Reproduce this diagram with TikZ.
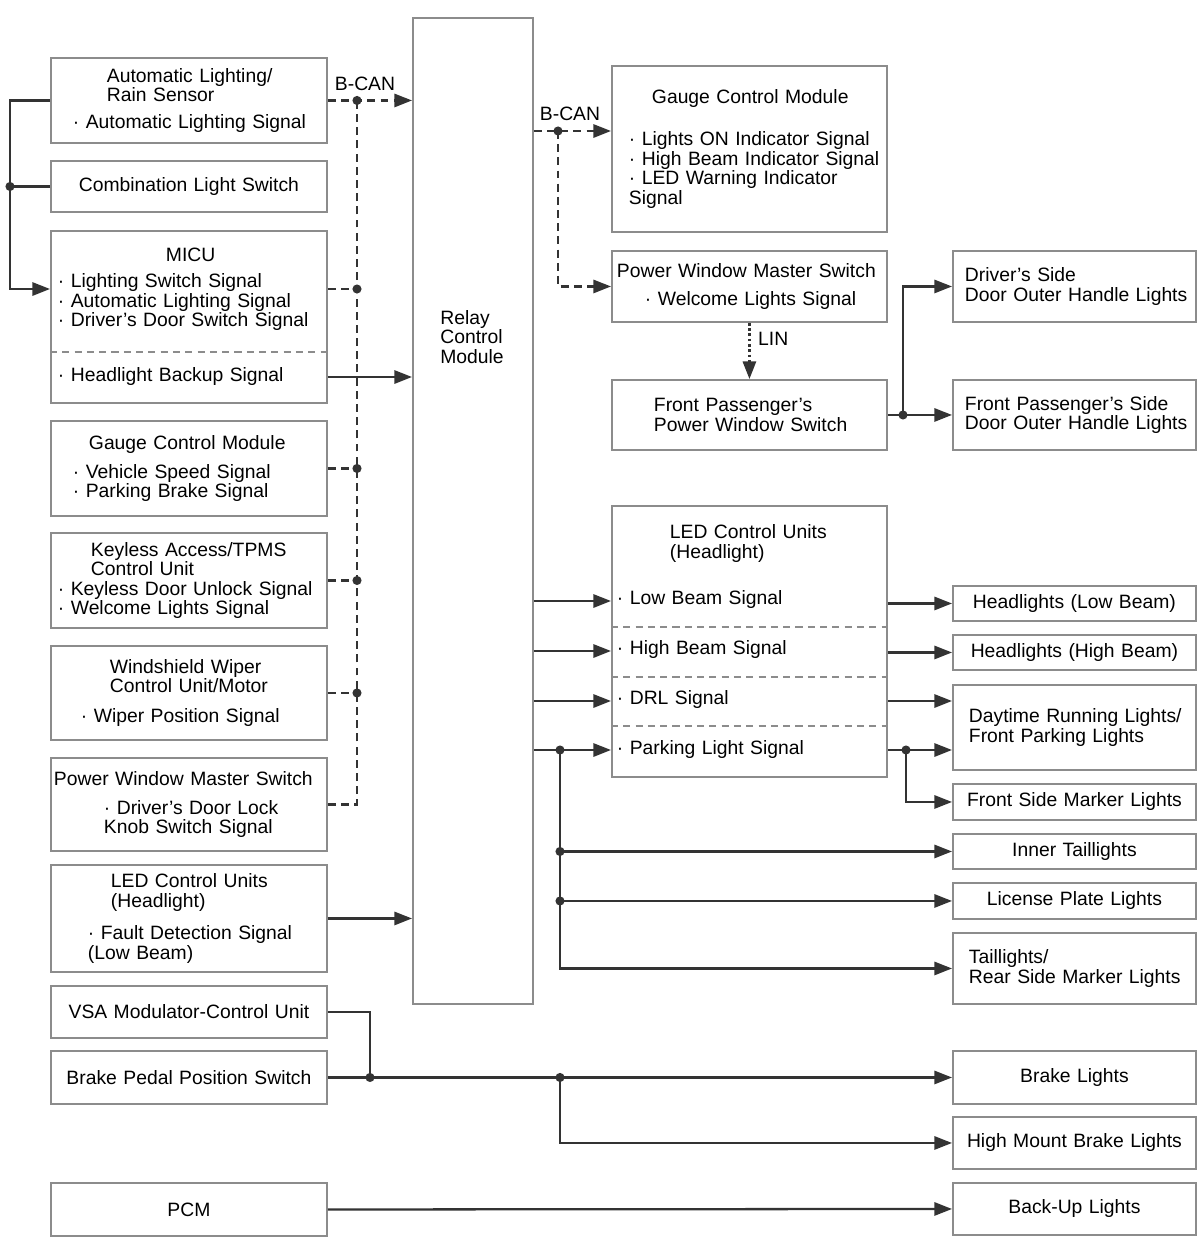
\documentclass[tikz,border=0pt]{standalone}
\usepackage{fontspec}
\setmainfont{Liberation Sans}
\usepackage{xcolor}
\usetikzlibrary{arrows.meta}
\definecolor{boxgray}{HTML}{8C8C8C}
\definecolor{wirec}{HTML}{333333}
\newlength{\pxl}\setlength{\pxl}{0.02cm}
\newcommand{\indt}[1]{\hspace*{#1\pxl}}

\begin{document}
\begin{tikzpicture}[%
    x=0.02cm,y=-0.02cm,>={Triangle[length=10pt,width=7.5pt]},
    font=\fontsize{11}{11.05}\selectfont,
    box/.style={draw=boxgray,line width=1.1pt,inner sep=0pt,anchor=north west,align=left},
    lbox/.style={box,text width=5.52cm},
    mbox/.style={box,text width=5.5cm},
    rbox/.style={box,text width=4.86cm},
    wire/.style={draw=wirec,line width=1.3pt},
    can/.style={wire,dash pattern=on 4.5pt off 3pt},
    lin/.style={wire,dash pattern=on 1.5pt off 1.5pt},
    divider/.style={draw=boxgray,line width=0.8pt,dash pattern=on 4pt off 3pt},
    jdot/.style={fill=wirec}
  ]
    \useasboundingbox (0,0) rectangle (1200,1242);

    % inputs
    \node[lbox,minimum height=1.70cm] (alrs) at (50,57) {\indt{56}Automatic Lighting/\\\indt{56}Rain Sensor\\[4pt]\indt{22}· Automatic Lighting Signal};
    \node[lbox,align=center,minimum height=1.02cm] (cls) at (50,160) {Combination Light Switch};
    \node[lbox,minimum height=3.44cm] (micu) at (50,230) {\indt{115}MICU\\[4pt]\indt{7}· Lighting Switch Signal\\\indt{7}· Automatic Lighting Signal\\\indt{7}· Driver’s Door Switch Signal\\[20.4pt]\indt{7}· Headlight Backup Signal};
    \node[lbox,minimum height=1.90cm] (gcml) at (50,420) {\indt{38}Gauge Control Module\\[5.7pt]\indt{22}· Vehicle Speed Signal\\\indt{22}· Parking Brake Signal};
    \node[lbox,minimum height=1.90cm] (keyl) at (50,532) {\indt{40}Keyless Access/TPMS\\\indt{40}Control Unit\\\indt{7}· Keyless Door Unlock Signal\\\indt{7}· Welcome Lights Signal};
    \node[lbox,minimum height=1.88cm] (wipr) at (50,645) {\indt{59}Windshield Wiper\\\indt{59}Control Unit/Motor\\[5.7pt]\indt{30}· Wiper Position Signal};
    \node[lbox,minimum height=1.86cm] (pwml) at (50,757) {\indt{3}Power Window Master Switch\\[5.7pt]\indt{53}· Driver’s Door Lock\\\indt{53}Knob Switch Signal};
    \node[lbox,minimum height=2.14cm] (ledl) at (50,864) {\indt{60}LED Control Units\\\indt{60}(Headlight)\\[7.5pt]\indt{37}· Fault Detection Signal\\\indt{37}(Low Beam)};
    \node[lbox,align=center,minimum height=1.04cm] (vsa) at (50,985) {VSA Modulator-Control Unit};
    \node[lbox,align=center,minimum height=1.06cm] (bpps) at (50,1050) {Brake Pedal Position Switch};
    \node[lbox,align=center,minimum height=1.06cm] (pcm) at (50,1182) {PCM};

    % relay
    \node[box,minimum width=2.4cm,minimum height=19.72cm] (rcm) at (412,17) {};
    \node[anchor=west,align=left,inner sep=0pt] (rcmtxt) at (440,337) {Relay\\Control\\Module};

    % middle column
    \node[mbox,minimum height=3.32cm] (gcmr) at (611,65) {\indt{40}Gauge Control Module\\[13pt]\indt{17}· Lights ON Indicator Signal\\\indt{17}· High Beam Indicator Signal\\\indt{17}· LED Warning Indicator\\\indt{17}Signal};
    \node[mbox,minimum height=1.42cm] (pwmr) at (611,250) {\indt{5}Power Window Master Switch\\[5pt]\indt{33}· Welcome Lights Signal};
    \node[mbox,minimum height=1.40cm] (fppws) at (611,379) {\indt{42}Front Passenger’s\\\indt{42}Power Window Switch};
    \node[mbox,minimum height=5.42cm] (ledr) at (611,505) {\indt{58}LED Control Units\\\indt{58}(Headlight)\\[15.6pt]\indt{5}· Low Beam Signal\\[17.3pt]\indt{5}· High Beam Signal\\[17.3pt]\indt{5}· DRL Signal\\[17.3pt]\indt{5}· Parking Light Signal};

    % outputs
    \node[rbox,minimum height=1.42cm] (drsd) at (952,250) {\indt{12}Driver’s Side\\\indt{12}Door Outer Handle Lights};
    \node[rbox,minimum height=1.40cm] (fpsd) at (952,379) {\indt{12}Front Passenger’s Side\\\indt{12}Door Outer Handle Lights};
    \node[rbox,align=center,minimum height=0.70cm] (hllo) at (952,585) {Headlights (Low Beam)};
    \node[rbox,align=center,minimum height=0.70cm] (hlhi) at (952,634) {Headlights (High Beam)};
    \node[rbox,minimum height=1.70cm] (drl) at (952,684) {\indt{16}Daytime Running Lights/\\\indt{16}Front Parking Lights};
    \node[rbox,align=center,minimum height=0.72cm] (fsml) at (952,783) {Front Side Marker Lights};
    \node[rbox,align=center,minimum height=0.70cm] (innr) at (952,833) {Inner Taillights};
    \node[rbox,align=center,minimum height=0.72cm] (lic) at (952,882) {License Plate Lights};
    \node[rbox,minimum height=1.42cm] (tail) at (952,932) {\indt{16}Taillights/\\\indt{16}Rear Side Marker Lights};
    \node[rbox,align=center,minimum height=1.06cm] (brk) at (952,1050) {Brake Lights};
    \node[rbox,align=center,minimum height=1.04cm] (hmbl) at (952,1116) {High Mount Brake Lights};
    \node[rbox,align=center,minimum height=1.04cm] (bkup) at (952,1182) {Back-Up Lights};

    % dividers
    \draw[divider] (micu.west |- 0,352) -- (micu.east |- 0,352);
    \foreach \yy in {627,677,726}
      \draw[divider] (ledr.west |- 0,\yy) -- (ledr.east |- 0,\yy);

    % left bus
    \coordinate (lbus) at (10,289);
    \draw[wire,->] (alrs.west) -| (lbus) -- (micu.west |- lbus);
    \draw[wire] (cls.west) -- (cls.west -| lbus);
    \fill[jdot] (cls.west -| lbus) circle (2.6pt);

    % B-CAN, left
    \coordinate (cbus) at (357,0);
    \node (bcanl) at (365,84) {B-CAN};
    \draw[can,->] (alrs.east) -- (alrs.east -| rcm.west);
    \draw[can] (pwml.east) -| (alrs.east -| cbus);
    \fill[jdot] (alrs.east -| cbus) circle (2.6pt);
    \draw[can] (micu.east |- lbus) -- (cbus |- lbus);
    \fill[jdot] (cbus |- lbus) circle (2.6pt);
    \foreach \nm in {gcml,keyl,wipr}{
      \draw[can] (\nm.east) -- (\nm.east -| cbus);
      \fill[jdot] (\nm.east -| cbus) circle (2.6pt);
    }
    \draw[wire,->] (micu.east |- 0,377) -- (rcm.west |- 0,377);
    \draw[wire,->] (ledl.east) -- (ledl.east -| rcm.west);

    % B-CAN, right
    \coordinate (rcan) at (558,131);
    \node (bcanr) at (570,114) {B-CAN};
    \draw[can,->] (rcm.east |- rcan) -- (gcmr.west |- rcan);
    \draw[can,->] (rcan) |- (pwmr.west);
    \fill[jdot] (rcan) circle (2.6pt);

    % LIN and door lights
    \draw[lin,->] (pwmr.south) -- node[pos=0.28,right=1pt] (linlab) {LIN} (fppws.north);
    \coordinate (pwj) at (903,0);
    \draw[wire,->] (fppws.east) -- (fpsd.west);
    \draw[wire,->] (fppws.east -| pwj) |- (drsd.west);
    \fill[jdot] (fppws.east -| pwj) circle (2.6pt);

    % relay to LED units
    \foreach \yy in {601,651,701,750}
      \draw[wire,->] (rcm.east |- 0,\yy) -- (ledr.west |- 0,\yy);
    \draw[wire,->] (ledr.east |- hllo.west) -- (hllo.west);
    \draw[wire,->] (ledr.east |- hlhi.west) -- (hlhi.west);
    \draw[wire,->] (ledr.east |- 0,701) -- (drl.west |- 0,701);
    \draw[wire,->] (ledr.east |- 0,750) -- (drl.west |- 0,750);
    \coordinate (pkj) at (906,750);
    \draw[wire,->] (pkj) |- (fsml.west);
    \fill[jdot] (pkj) circle (2.6pt);

    % rear lights
    \coordinate (pbus) at (560,750);
    \draw[wire,->] (pbus) |- (tail.west);
    \fill[jdot] (pbus) circle (2.6pt);
    \foreach \nm in {innr,lic}{
      \draw[wire,->] (pbus |- \nm.west) -- (\nm.west);
      \fill[jdot] (pbus |- \nm.west) circle (2.6pt);
    }

    % brake and back-up
    \coordinate (vsaj) at (370,0);
    \draw[wire,->] (bpps.east) -- (brk.west);
    \draw[wire] (vsa.east) -| (bpps.east -| vsaj);
    \fill[jdot] (bpps.east -| vsaj) circle (2.6pt);
    \draw[wire,->] (bpps.east -| pbus) |- (hmbl.west);
    \fill[jdot] (bpps.east -| pbus) circle (2.6pt);
    \draw[wire,->] (pcm.east) -- (bkup.west);
\end{tikzpicture}
\end{document}
